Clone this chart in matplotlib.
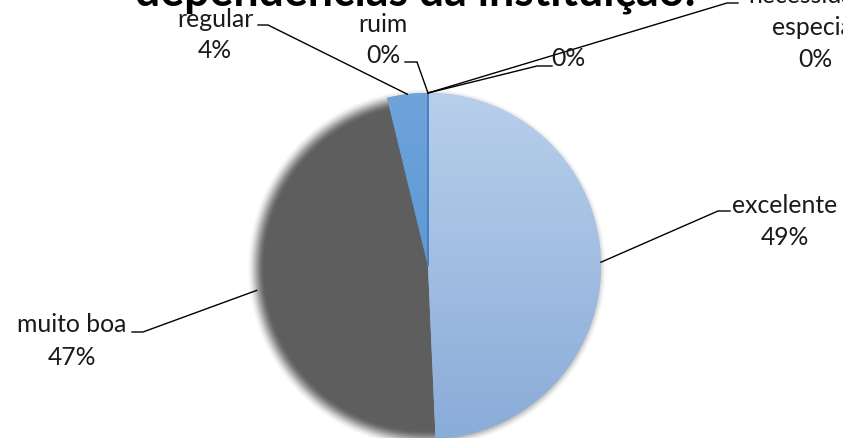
import numpy as np
import matplotlib
matplotlib.use('Agg')
import matplotlib.pyplot as plt
from matplotlib.colors import to_rgb

# ---------------- data ----------------
categories = ['excelente', 'muito boa', 'regular', 'ruim', '', 'necessidade especial']
values = [49.3, 46.9, 3.8, 0.0, 0.0, 0.0]
pct_labels = ['49%', '47%', '4%', '0%', '0%', '0%']
title_text = 'dependências da instituição:'

# ---------------- layout / style ----------------
W, H = 843, 438
CX, CY, R = 428, 266, 173          # pie centre / radius in pixels (y down)
FONT = 'Lato'

def P(x, y):
    """pixel (y down) -> data (y up)"""
    return x, H - y

fig = plt.figure(figsize=(W / 100, H / 100), dpi=100)
ax = fig.add_axes([0, 0, 1, 1])

wedge_colors = ['#a3bfe3', '#5f5f5f', '#5f99d4', '#4f86c6', '#4f86c6', '#4f86c6']
wedges, _ = ax.pie(values, startangle=90, counterclock=False,
                   center=P(CX, CY), radius=R, colors=wedge_colors,
                   wedgeprops=dict(linewidth=0))
ax.set_aspect('auto')
ax.set_xlim(0, W)
ax.set_ylim(0, H)
ax.axis('off')

# soft grey body / halo (gives the blurred edge of the grey slice and the shadow)
xs = np.arange(W) + 0.5
ys = np.arange(H) + 0.5
X, Y = np.meshgrid(xs, ys)
cx, cy = P(CX, CY)
d = np.hypot(X - (cx - 1), Y - (cy - 2))
w = 9.0
t = np.clip((R + w * 0.8 - d) / (2 * w), 0, 1)
alpha = t * t * (3 - 2 * t)
rgba = np.zeros((H, W, 4))
rgba[..., :3] = to_rgb('#5e5e5e')
rgba[..., 3] = alpha
ax.imshow(rgba, extent=(0, W, 0, H), origin='lower', zorder=0.5, interpolation='bilinear')
wedges[1].set_facecolor('none')

# gradient fills of the blue slices
def grad_img(top, bottom):
    c1, c2 = np.array(to_rgb(top)), np.array(to_rgb(bottom))
    f = np.linspace(0, 1, 256)[:, None]
    col = c2 * (1 - f) + c1 * f          # origin lower: row 0 bottom
    return np.repeat(col[:, None, :], 2, axis=1)

for idx, (top, bottom) in {0: ('#b8cfeb', '#8aacd9'), 2: ('#6ea4da', '#4f8ccf')}.items():
    wg = wedges[idx]
    wg.set_zorder(2)
    im = ax.imshow(grad_img(top, bottom), extent=(cx - R, cx + R, cy - R, cy + R),
                   origin='lower', zorder=2.1, aspect='auto', interpolation='bilinear')
    im.set_clip_path(wg)

# zero slices show as a thin darker line at 12 o'clock
for wg in wedges[3:]:
    wg.set_edgecolor('#4a80c0')
    wg.set_linewidth(1.2)
    wg.set_zorder(3)

# ---------------- fonts ----------------
renderer = fig.canvas.get_renderer()

def fit_size(text, target_w, weight='normal'):
    tt = fig.text(0, 0, text, fontsize=10, family=FONT, weight=weight)
    wpx = tt.get_window_extent(renderer).width
    tt.remove()
    return 10 * target_w / wpx

label_fs = fit_size('excelente', 105)
title_fs = fit_size(title_text, 564, 'bold')

# ---------------- title (partly cut by the top edge) ----------------
ax.text(*P(415, 5), title_text, fontsize=title_fs, family=FONT, weight='bold',
        ha='center', va='baseline', color='black', zorder=5)

# ---------------- labels with leader lines ----------------
# (elbow, stub end, text centre x, baselines)
label_layout = [
    ((718, 211), (730, 211), 785, [213, 245]),
    ((143, 332), (132, 332), 72, [332, 365]),
    ((268, 25), (258, 25), 215, [27, 58]),
    ((417, 62), (405, 62), 383, [32, 63]),
    ((537, 66), (552, 66), 568, [35, 66]),
    ((727, 3), (738, 3), 815, [3, 35, 67]),
]

for i, (elbow, stub, tx, baselines) in enumerate(label_layout):
    wg = wedges[i]
    mid = np.deg2rad((wg.theta1 + wg.theta2) / 2)
    sx, sy = cx + R * np.cos(mid), cy + R * np.sin(mid)
    ex, ey = P(*elbow)
    bx, by = P(*stub)
    ax.plot([sx, ex, bx], [sy, ey, by], color='black', lw=1.0, zorder=4,
            solid_joinstyle='miter')
    name = categories[i]
    if i == 5:
        lines = ['necessidade', 'especial', pct_labels[i]]
    else:
        lines = [name, pct_labels[i]]
    for line, bl in zip(lines, baselines):
        if line:
            ax.text(*P(tx, bl), line, fontsize=label_fs, family=FONT,
                    ha='center', va='baseline', color='#1a1a1a', zorder=5)

fig.savefig('out.png', dpi=100)
